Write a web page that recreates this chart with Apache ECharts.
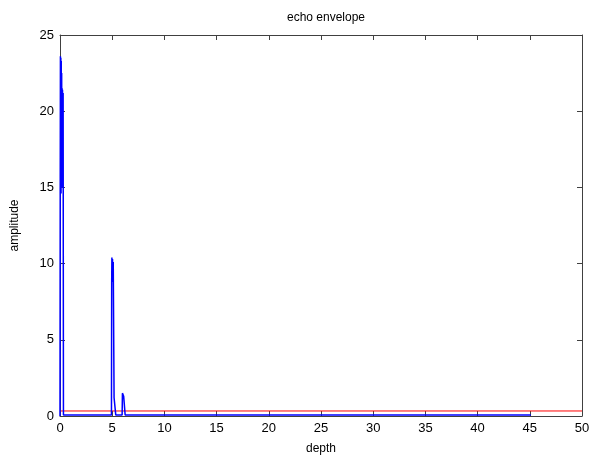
<!DOCTYPE html>
<html lang="en">
<head>
	<meta charset="UTF-8">
	<title>echo envelope</title>
	<script src="https://cdn.jsdelivr.net/npm/echarts@6/dist/echarts.min.js"></script>
</head>
<style>
	html, body { margin: 0; padding: 0; background: #fff; }
	#main { width: 597px; height: 455px; }
</style>
<body>
	<div id="main"></div>
	<script>
		// echo envelope (blue)
		var echoDepth = [0, 0.02, 0.04, 0.06, 0.08, 0.10, 0.12, 0.14, 0.16, 0.18, 0.20, 0.22, 0.24, 0.27, 0.30, 0.33,
			4.93, 4.95, 4.97, 5.00, 5.03, 5.07, 5.10, 5.15, 5.18, 5.30, 5.34,
			5.95, 5.98, 6.05, 6.10, 6.20, 6.24, 45.1];
		var echoAmp = [0, 14.5, 23.6, 15.0, 23.5, 14.6, 23.3, 15.5, 22.5, 15.0, 21.5, 15.5, 21.4, 15.0, 21.2, 0.07,
			0.07, 8.7, 10.4, 8.8, 10.3, 9.0, 10.1, 10.0, 1.2, 1.1, 0.07,
			0.07, 1.5, 1.6, 1.3, 1.4, 0.07, 0.07];
		// threshold line (red)
		var threshDepth = [0, 50];
		var threshAmp = [0.33, 0.33];

		var xTicks = [0, 50, 5];
		var yTicks = [0, 25, 5];

		var pairs = function (xs, ys) {
			var out = [];
			for (var i = 0; i < xs.length; i++) {
				out.push([xs[i], ys[i]]);
			}
			return out;
		};

		var font = 'Liberation Sans, Arial, sans-serif';
		var boxLine = { show: true, onZero: false, lineStyle: { color: '#404040', width: 1 } };
		var tick = { show: true, inside: true, length: 5, lineStyle: { color: '#404040' } };

		var myChart = echarts.init(document.getElementById('main'));
		var option = {
			animation: false,
			backgroundColor: '#fff',
			title: {
				text: 'echo envelope',
				left: 321,
				top: 7,
				textAlign: 'center',
				textStyle: { fontFamily: font, fontSize: 12, fontWeight: 'normal', color: '#000' }
			},
			grid: { left: 60, right: 15, top: 35, bottom: 39, containLabel: false, outerBoundsMode: 'none' },
			xAxis: [{
				type: 'value',
				min: xTicks[0], max: xTicks[1], interval: xTicks[2],
				name: 'depth',
				nameLocation: 'middle',
				nameGap: 27,
				nameTextStyle: { fontFamily: font, fontSize: 12, color: '#000' },
				axisLine: boxLine,
				axisTick: tick,
				axisLabel: { fontFamily: font, fontSize: 13, color: '#000', margin: 6 },
				splitLine: { show: false }
			}, {
				type: 'value',
				position: 'top',
				min: xTicks[0], max: xTicks[1], interval: xTicks[2],
				axisLine: boxLine,
				axisTick: tick,
				axisLabel: { show: false },
				splitLine: { show: false }
			}],
			yAxis: [{
				type: 'value',
				min: yTicks[0], max: yTicks[1], interval: yTicks[2],
				name: 'amplitude',
				nameLocation: 'middle',
				nameGap: 39,
				nameTextStyle: { fontFamily: font, fontSize: 12, color: '#000' },
				axisLine: boxLine,
				axisTick: tick,
				axisLabel: { fontFamily: font, fontSize: 13, color: '#000', margin: 6 },
				splitLine: { show: false }
			}, {
				type: 'value',
				position: 'right',
				min: yTicks[0], max: yTicks[1], interval: yTicks[2],
				axisLine: boxLine,
				axisTick: tick,
				axisLabel: { show: false },
				splitLine: { show: false }
			}],
			series: [{
				type: 'line',
				data: pairs(threshDepth, threshAmp),
				showSymbol: false,
				lineStyle: { color: '#ff0000', width: 1 },
				z: 2
			}, {
				type: 'line',
				data: pairs(echoDepth, echoAmp),
				showSymbol: false,
				lineStyle: { color: '#0000ff', width: 1.5 },
				z: 3
			}]
		};
		myChart.setOption(option);
	</script>
</body>
</html>
